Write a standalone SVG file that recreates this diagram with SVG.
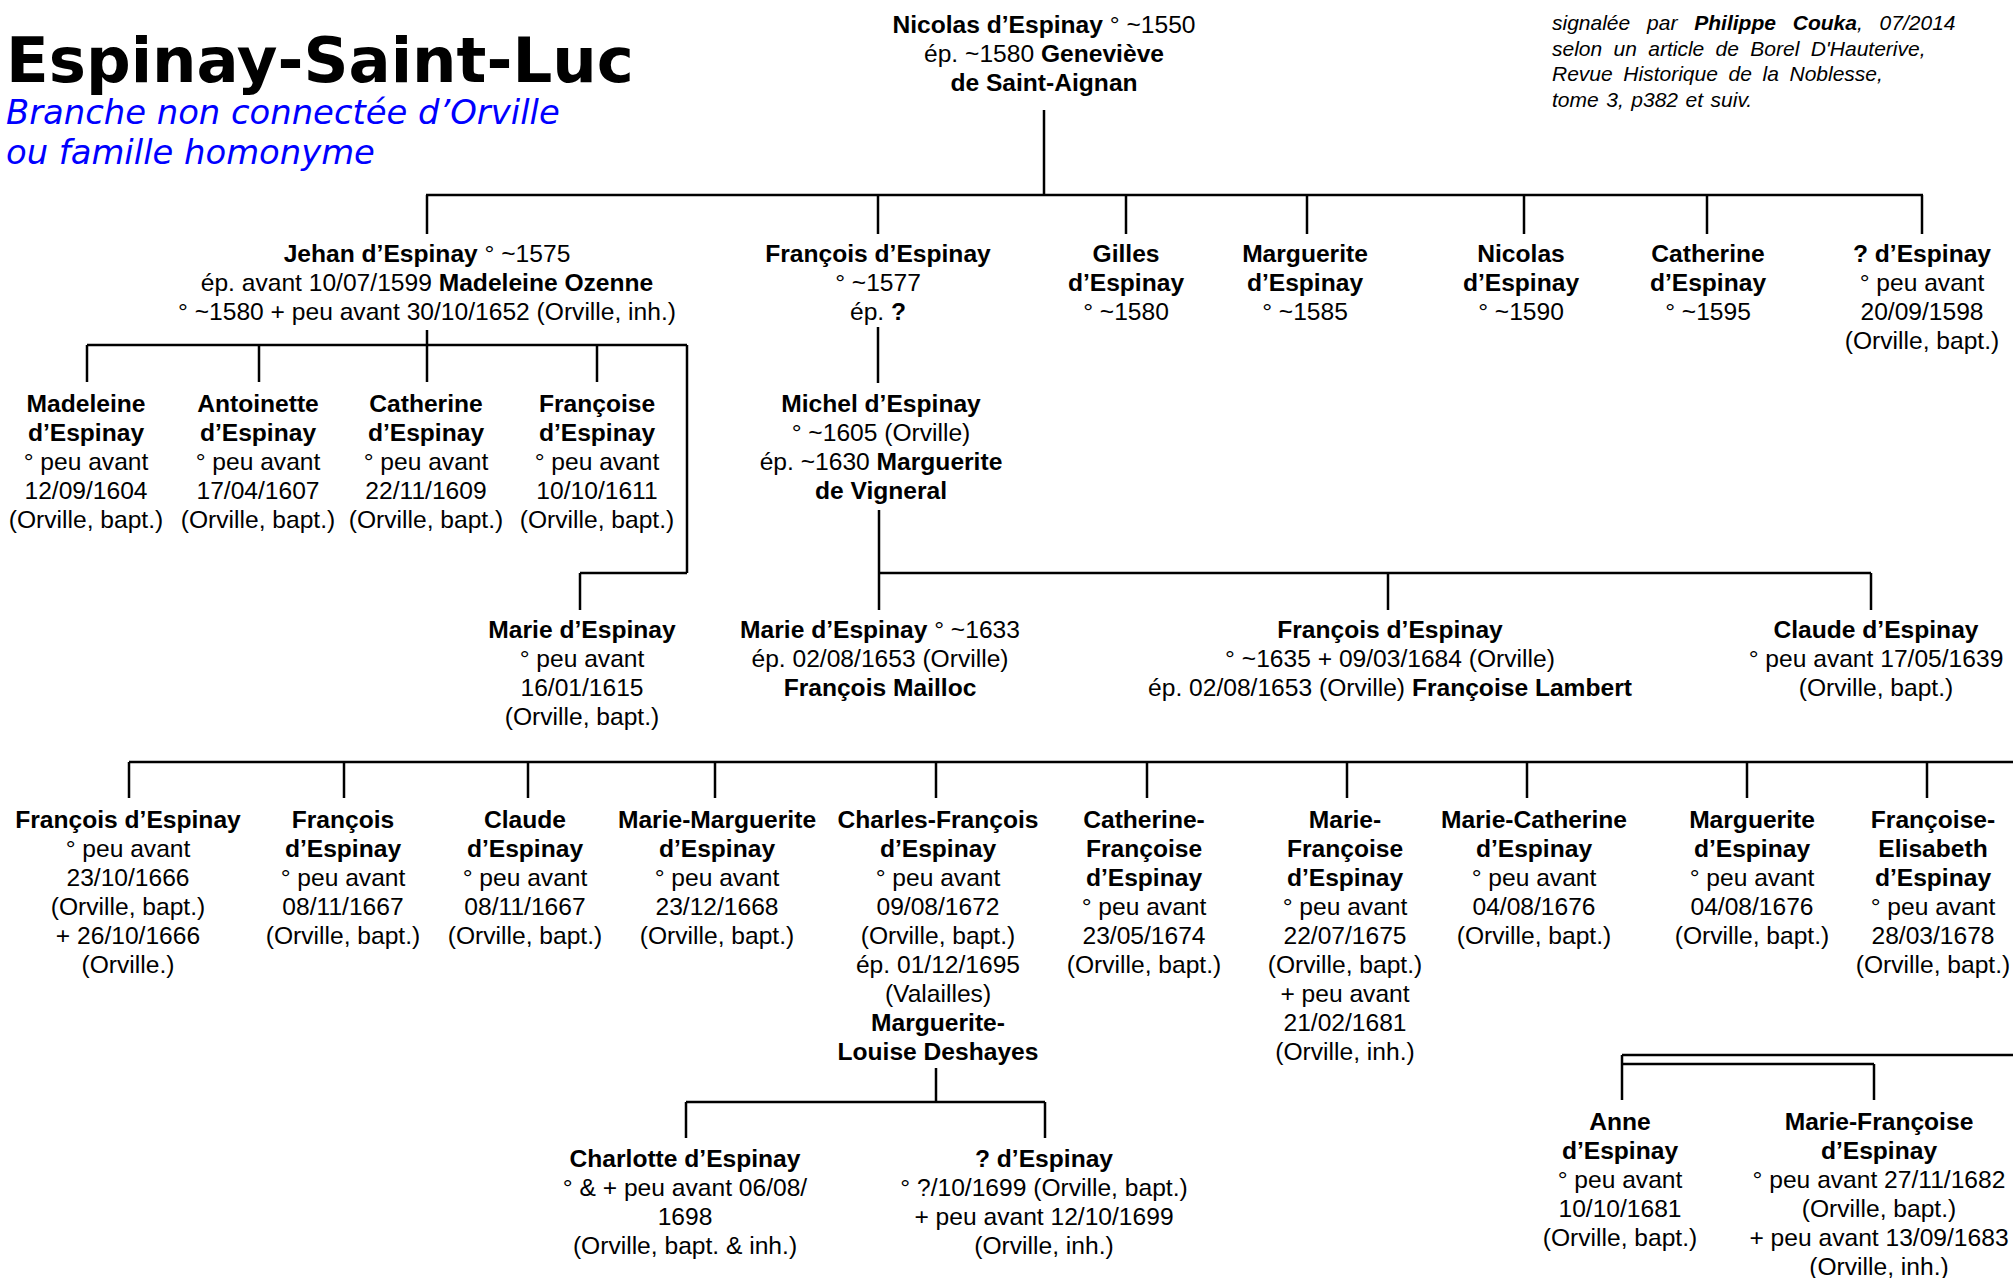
<svg xmlns="http://www.w3.org/2000/svg" width="2013" height="1278" viewBox="0 0 2013 1278">
<style>
.t{font-family:"Liberation Sans",Arial,sans-serif;font-size:24.6px;text-anchor:middle;fill:#000}
.b{font-weight:bold}
.title{font-family:"DejaVu Sans",Verdana,sans-serif;font-weight:bold;font-size:62.5px;fill:#000}
.sub{font-family:"DejaVu Sans",Verdana,sans-serif;font-style:italic;font-size:33.8px;fill:#0000ff}
.note{font-family:"Liberation Sans",Arial,sans-serif;font-style:italic;font-size:21px;fill:#000}
.c line{stroke:#000;stroke-width:2.5;fill:none}
</style>
<rect width="2013" height="1278" fill="#fff"/>
<g id="header">
<text class="title" x="6" y="82">Espinay-Saint-Luc</text>
<text class="sub" x="6" y="124">Branche non connectée d’Orville</text>
<text class="sub" x="6" y="164">ou famille homonyme</text>
<text class="note" x="1552" y="30" word-spacing="11">signalée par <tspan font-weight="bold">Philippe Couka</tspan>, 07/2014</text>
<text class="note" x="1552" y="56" word-spacing="5.5">selon un article de Borel D'Hauterive,</text>
<text class="note" x="1552" y="81" word-spacing="4.8">Revue Historique de la Noblesse,</text>
<text class="note" x="1552" y="107" word-spacing="1.7">tome 3, p382 et suiv.</text>
</g>
<g id="connectors" class="c">
<line x1="1044" y1="110" x2="1044" y2="195"/>
<line x1="426" y1="195" x2="1923" y2="195"/>
<line x1="427" y1="195" x2="427" y2="234"/>
<line x1="878" y1="195" x2="878" y2="234"/>
<line x1="1126" y1="195" x2="1126" y2="234"/>
<line x1="1307" y1="195" x2="1307" y2="234"/>
<line x1="1524" y1="195" x2="1524" y2="234"/>
<line x1="1707" y1="195" x2="1707" y2="234"/>
<line x1="1922" y1="195" x2="1922" y2="234"/>
<line x1="427" y1="330" x2="427" y2="382"/>
<line x1="87" y1="345" x2="687" y2="345"/>
<line x1="87" y1="345" x2="87" y2="382"/>
<line x1="259" y1="345" x2="259" y2="382"/>
<line x1="597" y1="345" x2="597" y2="382"/>
<line x1="687" y1="345" x2="687" y2="573"/>
<line x1="687" y1="573" x2="580" y2="573"/>
<line x1="580" y1="573" x2="580" y2="610"/>
<line x1="878" y1="327" x2="878" y2="383"/>
<line x1="879" y1="510" x2="879" y2="610"/>
<line x1="879" y1="573" x2="1871" y2="573"/>
<line x1="1388" y1="573" x2="1388" y2="610"/>
<line x1="1871" y1="573" x2="1871" y2="610"/>
<line x1="129" y1="762" x2="2013" y2="762"/>
<line x1="129" y1="762" x2="129" y2="798"/>
<line x1="344" y1="762" x2="344" y2="798"/>
<line x1="528" y1="762" x2="528" y2="798"/>
<line x1="715" y1="762" x2="715" y2="798"/>
<line x1="936" y1="762" x2="936" y2="798"/>
<line x1="1147" y1="762" x2="1147" y2="798"/>
<line x1="1347" y1="762" x2="1347" y2="798"/>
<line x1="1527" y1="762" x2="1527" y2="798"/>
<line x1="1747" y1="762" x2="1747" y2="798"/>
<line x1="1927" y1="762" x2="1927" y2="798"/>
<line x1="936" y1="1068" x2="936" y2="1102"/>
<line x1="686" y1="1102" x2="1045" y2="1102"/>
<line x1="686" y1="1102" x2="686" y2="1138"/>
<line x1="1045" y1="1102" x2="1045" y2="1138"/>
<line x1="1622" y1="1055" x2="2013" y2="1055"/>
<line x1="1622" y1="1064" x2="1874" y2="1064"/>
<line x1="1622" y1="1055" x2="1622" y2="1100"/>
<line x1="1874" y1="1064" x2="1874" y2="1100"/>
</g>
<g id="n-nicolas"><text class="t" x="1044" y="33"><tspan class="b">Nicolas d’Espinay</tspan> ° ~1550<tspan x="1044" dy="29">ép. ~1580 <tspan class="b">Geneviève</tspan></tspan><tspan x="1044" dy="29" class="b">de Saint-Aignan</tspan></text></g>
<g id="n-jehan"><text class="t" x="427" y="262"><tspan class="b">Jehan d’Espinay</tspan> ° ~1575<tspan x="427" dy="29">ép. avant 10/07/1599 <tspan class="b">Madeleine Ozenne</tspan></tspan><tspan x="427" dy="29">° ~1580 + peu avant 30/10/1652 (Orville, inh.)</tspan></text></g>
<g id="n-francois1"><text class="t" x="878" y="262"><tspan class="b">François d’Espinay</tspan><tspan x="878" dy="29">° ~1577</tspan><tspan x="878" dy="29">ép. <tspan class="b">?</tspan></tspan></text></g>
<g id="n-gilles"><text class="t" x="1126" y="262"><tspan class="b">Gilles</tspan><tspan x="1126" dy="29" class="b">d’Espinay</tspan><tspan x="1126" dy="29">° ~1580</tspan></text></g>
<g id="n-marguerite1"><text class="t" x="1305" y="262"><tspan class="b">Marguerite</tspan><tspan x="1305" dy="29" class="b">d’Espinay</tspan><tspan x="1305" dy="29">° ~1585</tspan></text></g>
<g id="n-nicolas2"><text class="t" x="1521" y="262"><tspan class="b">Nicolas</tspan><tspan x="1521" dy="29" class="b">d’Espinay</tspan><tspan x="1521" dy="29">° ~1590</tspan></text></g>
<g id="n-catherine1"><text class="t" x="1708" y="262"><tspan class="b">Catherine</tspan><tspan x="1708" dy="29" class="b">d’Espinay</tspan><tspan x="1708" dy="29">° ~1595</tspan></text></g>
<g id="n-unknown1"><text class="t" x="1922" y="262"><tspan class="b">? d’Espinay</tspan><tspan x="1922" dy="29">° peu avant</tspan><tspan x="1922" dy="29">20/09/1598</tspan><tspan x="1922" dy="29">(Orville, bapt.)</tspan></text></g>
<g id="n-madeleine"><text class="t" x="86" y="412"><tspan class="b">Madeleine</tspan><tspan x="86" dy="29" class="b">d’Espinay</tspan><tspan x="86" dy="29">° peu avant</tspan><tspan x="86" dy="29">12/09/1604</tspan><tspan x="86" dy="29">(Orville, bapt.)</tspan></text></g>
<g id="n-antoinette"><text class="t" x="258" y="412"><tspan class="b">Antoinette</tspan><tspan x="258" dy="29" class="b">d’Espinay</tspan><tspan x="258" dy="29">° peu avant</tspan><tspan x="258" dy="29">17/04/1607</tspan><tspan x="258" dy="29">(Orville, bapt.)</tspan></text></g>
<g id="n-catherine2"><text class="t" x="426" y="412"><tspan class="b">Catherine</tspan><tspan x="426" dy="29" class="b">d’Espinay</tspan><tspan x="426" dy="29">° peu avant</tspan><tspan x="426" dy="29">22/11/1609</tspan><tspan x="426" dy="29">(Orville, bapt.)</tspan></text></g>
<g id="n-francoise1"><text class="t" x="597" y="412"><tspan class="b">Françoise</tspan><tspan x="597" dy="29" class="b">d’Espinay</tspan><tspan x="597" dy="29">° peu avant</tspan><tspan x="597" dy="29">10/10/1611</tspan><tspan x="597" dy="29">(Orville, bapt.)</tspan></text></g>
<g id="n-michel"><text class="t" x="881" y="412"><tspan class="b">Michel d’Espinay</tspan><tspan x="881" dy="29">° ~1605 (Orville)</tspan><tspan x="881" dy="29">ép. ~1630 <tspan class="b">Marguerite</tspan></tspan><tspan x="881" dy="29" class="b">de Vigneral</tspan></text></g>
<g id="n-marie1"><text class="t" x="582" y="638"><tspan class="b">Marie d’Espinay</tspan><tspan x="582" dy="29">° peu avant</tspan><tspan x="582" dy="29">16/01/1615</tspan><tspan x="582" dy="29">(Orville, bapt.)</tspan></text></g>
<g id="n-marie2"><text class="t" x="880" y="638"><tspan class="b">Marie d’Espinay</tspan> ° ~1633<tspan x="880" dy="29">ép. 02/08/1653 (Orville)</tspan><tspan x="880" dy="29" class="b">François Mailloc</tspan></text></g>
<g id="n-francois2"><text class="t" x="1390" y="638"><tspan class="b">François d’Espinay</tspan><tspan x="1390" dy="29">° ~1635 + 09/03/1684 (Orville)</tspan><tspan x="1390" dy="29">ép. 02/08/1653 (Orville) <tspan class="b">Françoise Lambert</tspan></tspan></text></g>
<g id="n-claude1"><text class="t" x="1876" y="638"><tspan class="b">Claude d’Espinay</tspan><tspan x="1876" dy="29">° peu avant 17/05/1639</tspan><tspan x="1876" dy="29">(Orville, bapt.)</tspan></text></g>
<g id="n-francois3"><text class="t" x="128" y="828"><tspan class="b">François d’Espinay</tspan><tspan x="128" dy="29">° peu avant</tspan><tspan x="128" dy="29">23/10/1666</tspan><tspan x="128" dy="29">(Orville, bapt.)</tspan><tspan x="128" dy="29">+ 26/10/1666</tspan><tspan x="128" dy="29">(Orville.)</tspan></text></g>
<g id="n-francois4"><text class="t" x="343" y="828"><tspan class="b">François</tspan><tspan x="343" dy="29" class="b">d’Espinay</tspan><tspan x="343" dy="29">° peu avant</tspan><tspan x="343" dy="29">08/11/1667</tspan><tspan x="343" dy="29">(Orville, bapt.)</tspan></text></g>
<g id="n-claude2"><text class="t" x="525" y="828"><tspan class="b">Claude</tspan><tspan x="525" dy="29" class="b">d’Espinay</tspan><tspan x="525" dy="29">° peu avant</tspan><tspan x="525" dy="29">08/11/1667</tspan><tspan x="525" dy="29">(Orville, bapt.)</tspan></text></g>
<g id="n-mariemarguerite"><text class="t" x="717" y="828"><tspan class="b">Marie-Marguerite</tspan><tspan x="717" dy="29" class="b">d’Espinay</tspan><tspan x="717" dy="29">° peu avant</tspan><tspan x="717" dy="29">23/12/1668</tspan><tspan x="717" dy="29">(Orville, bapt.)</tspan></text></g>
<g id="n-charlesfrancois"><text class="t" x="938" y="828"><tspan class="b">Charles-François</tspan><tspan x="938" dy="29" class="b">d’Espinay</tspan><tspan x="938" dy="29">° peu avant</tspan><tspan x="938" dy="29">09/08/1672</tspan><tspan x="938" dy="29">(Orville, bapt.)</tspan><tspan x="938" dy="29">ép. 01/12/1695</tspan><tspan x="938" dy="29">(Valailles)</tspan><tspan x="938" dy="29" class="b">Marguerite-</tspan><tspan x="938" dy="29" class="b">Louise Deshayes</tspan></text></g>
<g id="n-catherinefrancoise"><text class="t" x="1144" y="828"><tspan class="b">Catherine-</tspan><tspan x="1144" dy="29" class="b">Françoise</tspan><tspan x="1144" dy="29" class="b">d’Espinay</tspan><tspan x="1144" dy="29">° peu avant</tspan><tspan x="1144" dy="29">23/05/1674</tspan><tspan x="1144" dy="29">(Orville, bapt.)</tspan></text></g>
<g id="n-mariefrancoise1"><text class="t" x="1345" y="828"><tspan class="b">Marie-</tspan><tspan x="1345" dy="29" class="b">Françoise</tspan><tspan x="1345" dy="29" class="b">d’Espinay</tspan><tspan x="1345" dy="29">° peu avant</tspan><tspan x="1345" dy="29">22/07/1675</tspan><tspan x="1345" dy="29">(Orville, bapt.)</tspan><tspan x="1345" dy="29">+ peu avant</tspan><tspan x="1345" dy="29">21/02/1681</tspan><tspan x="1345" dy="29">(Orville, inh.)</tspan></text></g>
<g id="n-mariecatherine"><text class="t" x="1534" y="828"><tspan class="b">Marie-Catherine</tspan><tspan x="1534" dy="29" class="b">d’Espinay</tspan><tspan x="1534" dy="29">° peu avant</tspan><tspan x="1534" dy="29">04/08/1676</tspan><tspan x="1534" dy="29">(Orville, bapt.)</tspan></text></g>
<g id="n-marguerite2"><text class="t" x="1752" y="828"><tspan class="b">Marguerite</tspan><tspan x="1752" dy="29" class="b">d’Espinay</tspan><tspan x="1752" dy="29">° peu avant</tspan><tspan x="1752" dy="29">04/08/1676</tspan><tspan x="1752" dy="29">(Orville, bapt.)</tspan></text></g>
<g id="n-francoiseelisabeth"><text class="t" x="1933" y="828"><tspan class="b">Françoise-</tspan><tspan x="1933" dy="29" class="b">Elisabeth</tspan><tspan x="1933" dy="29" class="b">d’Espinay</tspan><tspan x="1933" dy="29">° peu avant</tspan><tspan x="1933" dy="29">28/03/1678</tspan><tspan x="1933" dy="29">(Orville, bapt.)</tspan></text></g>
<g id="n-charlotte"><text class="t" x="685" y="1167"><tspan class="b">Charlotte d’Espinay</tspan><tspan x="685" dy="29">° &amp; + peu avant 06/08/</tspan><tspan x="685" dy="29">1698</tspan><tspan x="685" dy="29">(Orville, bapt. &amp; inh.)</tspan></text></g>
<g id="n-unknown2"><text class="t" x="1044" y="1167"><tspan class="b">? d’Espinay</tspan><tspan x="1044" dy="29">° ?/10/1699 (Orville, bapt.)</tspan><tspan x="1044" dy="29">+ peu avant 12/10/1699</tspan><tspan x="1044" dy="29">(Orville, inh.)</tspan></text></g>
<g id="n-anne"><text class="t" x="1620" y="1130"><tspan class="b">Anne</tspan><tspan x="1620" dy="29" class="b">d’Espinay</tspan><tspan x="1620" dy="29">° peu avant</tspan><tspan x="1620" dy="29">10/10/1681</tspan><tspan x="1620" dy="29">(Orville, bapt.)</tspan></text></g>
<g id="n-mariefrancoise2"><text class="t" x="1879" y="1130"><tspan class="b">Marie-Françoise</tspan><tspan x="1879" dy="29" class="b">d’Espinay</tspan><tspan x="1879" dy="29">° peu avant 27/11/1682</tspan><tspan x="1879" dy="29">(Orville, bapt.)</tspan><tspan x="1879" dy="29">+ peu avant 13/09/1683</tspan><tspan x="1879" dy="29">(Orville, inh.)</tspan></text></g>
</svg>
